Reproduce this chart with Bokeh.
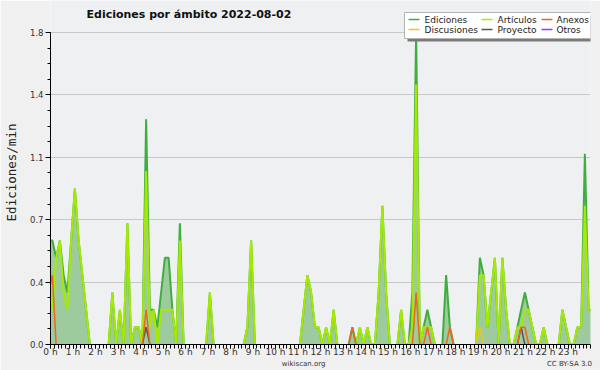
import math
from bokeh.plotting import figure
from bokeh.models import (Range1d, FixedTicker, CustomJSTickFormatter, BoxAnnotation,
                          Label, LinearAxis)
from bokeh.embed import file_html
from bokeh.resources import INLINE

# ---- data: edits per minute in 10-minute buckets (point at bucket middle) ----
# first value = last bucket of previous day, last value = first bucket of next day
slot_minutes = list(range(-5, 1446, 10))

ediciones = [0.6,
    0.6, 0.5, 0.6, 0.4, 0.3, 0.6,    # 0 h
    0.9, 0.6, 0.4, 0.2, 0.0, 0.0,    # 1 h
    0.0, 0.0, 0.0, 0.0, 0.3, 0.0,    # 2 h
    0.2, 0.0, 0.7, 0.0, 0.1, 0.1,    # 3 h
    0.0, 1.3, 0.2, 0.2, 0.1, 0.3,    # 4 h
    0.5, 0.5, 0.2, 0.0, 0.7, 0.0,    # 5 h
    0.0, 0.0, 0.0, 0.0, 0.0, 0.0,    # 6 h
    0.3, 0.0, 0.0, 0.0, 0.0, 0.0,    # 7 h
    0.0, 0.0, 0.0, 0.0, 0.1, 0.6,    # 8 h
    0.0, 0.0, 0.0, 0.0, 0.0, 0.0,    # 9 h
    0.0, 0.0, 0.0, 0.0, 0.0, 0.0,    # 10 h
    0.0, 0.2, 0.4, 0.3, 0.1, 0.1,    # 11 h
    0.0, 0.1, 0.0, 0.2, 0.0, 0.0,    # 12 h
    0.0, 0.0, 0.1, 0.0, 0.1, 0.0,    # 13 h
    0.1, 0.0, 0.0, 0.3, 0.8, 0.3,    # 14 h
    0.0, 0.0, 0.0, 0.2, 0.0, 0.0,    # 15 h
    0.3, 1.8, 0.0, 0.1, 0.2, 0.1,    # 16 h
    0.0, 0.0, 0.0, 0.4, 0.1, 0.0,    # 17 h
    0.0, 0.0, 0.0, 0.0, 0.0, 0.0,    # 18 h
    0.5, 0.4, 0.1, 0.3, 0.5, 0.0,    # 19 h
    0.5, 0.2, 0.0, 0.0, 0.1, 0.2,    # 20 h
    0.3, 0.2, 0.1, 0.0, 0.0, 0.1,    # 21 h
    0.0, 0.0, 0.0, 0.0, 0.2, 0.1,    # 22 h
    0.0, 0.0, 0.1, 0.1, 1.1, 0.2,    # 23 h
    0.2]

articulos = [0.3,
    0.2, 0.5, 0.6, 0.3, 0.2, 0.6,
    0.9, 0.6, 0.4, 0.2, 0.0, 0.0,
    0.0, 0.0, 0.0, 0.0, 0.3, 0.0,
    0.2, 0.0, 0.7, 0.0, 0.1, 0.1,
    0.0, 1.0, 0.1, 0.2, 0.0, 0.2,
    0.2, 0.2, 0.2, 0.0, 0.6, 0.0,
    0.0, 0.0, 0.0, 0.0, 0.0, 0.0,
    0.3, 0.0, 0.0, 0.0, 0.0, 0.0,
    0.0, 0.0, 0.0, 0.0, 0.1, 0.6,
    0.0, 0.0, 0.0, 0.0, 0.0, 0.0,
    0.0, 0.0, 0.0, 0.0, 0.0, 0.0,
    0.0, 0.2, 0.4, 0.3, 0.1, 0.1,
    0.0, 0.1, 0.0, 0.2, 0.0, 0.0,
    0.0, 0.0, 0.0, 0.0, 0.1, 0.0,
    0.1, 0.0, 0.0, 0.3, 0.8, 0.3,
    0.0, 0.0, 0.0, 0.2, 0.0, 0.0,
    0.1, 1.5, 0.0, 0.1, 0.1, 0.1,
    0.0, 0.0, 0.0, 0.0, 0.0, 0.0,
    0.0, 0.0, 0.0, 0.0, 0.0, 0.0,
    0.4, 0.4, 0.1, 0.3, 0.5, 0.0,
    0.5, 0.2, 0.0, 0.0, 0.1, 0.1,
    0.2, 0.2, 0.1, 0.0, 0.0, 0.1,
    0.0, 0.0, 0.0, 0.0, 0.2, 0.1,
    0.0, 0.0, 0.1, 0.1, 0.8, 0.2,
    0.2]

# sparse series: (slot index in slot_minutes, value); all other slots are 0
anexos_pts = [(0, 0.3), (1, 0.4), (26, 0.2), (81, 0.1), (98, 0.3), (101, 0.1),
              (107, 0.1), (126, 0.1), (127, 0.1)]
discusiones_pts = [(115, 0.1)]
proyecto_pts = [(26, 0.1), (126, 0.1)]
otros_pts = []

legend_rows = [["Ediciones", "Artículos", "Anexos"],
               ["Discusiones", "Proyecto", "Otros"]]
y_ticks = [0.0, 0.36, 0.72, 1.08, 1.44, 1.8]
y_max = 1.8
hour_ticks = list(range(0, 1381, 60))
credit_texts = ["wikiscan.org", "CC BY-SA 3.0"]
credit_minutes = [675, 1384]
title_text = "Ediciones por ámbito  2022-08-02"

n = len(slot_minutes)

def expand(pts):
    out = [0.0] * n
    for i, v in pts:
        out[i] = v
    return out

def masked(vals):
    # runs of zeros sit under the axis line in the original: hide them
    out = []
    for k, v in enumerate(vals):
        prev = vals[k - 1] if k > 0 else 0.0
        nxt = vals[k + 1] if k < n - 1 else 0.0
        out.append(float('nan') if (v == 0 and prev == 0 and nxt == 0) else v)
    return out

anexos = expand(anexos_pts)
discusiones = expand(discusiones_pts)
proyecto = expand(proyecto_pts)
otros = expand(otros_pts)

colors = {"Ediciones": "#3fae3f", "Artículos": "#a6ea00", "Anexos": "#f0641e",
          "Discusiones": "#f2c418", "Proyecto": "#555555", "Otros": "#9a3cf0"}

# layout (pixels): plot area 46..590 x 32..344 in a 600x370 canvas
W, H = 600, 370
FRAME_TOP, FRAME_BOTTOM = 32, 344
top_value = y_max * FRAME_BOTTOM / (FRAME_BOTTOM - FRAME_TOP)   # room for title + legend

p = figure(width=W, height=H, x_range=Range1d(0, 1440), y_range=Range1d(0, top_value),
           output_backend="svg", toolbar_location=None,
           min_border_left=46, min_border_right=10, min_border_top=0, min_border_bottom=26,
           background_fill_color="#eef0f1", border_fill_color="#f0f0f0")
p.outline_line_color = None

p.varea(x=slot_minutes, y1=[0.0] * n, y2=ediciones, fill_color="#9dcb9d", fill_alpha=1.0)
p.line(slot_minutes, masked(ediciones), line_color=colors["Ediciones"], line_width=2)
p.line(slot_minutes, masked(articulos), line_color=colors["Artículos"], line_width=2)
p.line(slot_minutes, masked(discusiones), line_color=colors["Discusiones"], line_width=1.5)
p.line(slot_minutes, masked(proyecto), line_color=colors["Proyecto"], line_width=1.5)
p.line(slot_minutes, masked(anexos), line_color=colors["Anexos"], line_width=1.5)
p.line(slot_minutes, masked(otros), line_color=colors["Otros"], line_width=1.5)

# axes
p.xaxis.ticker = FixedTicker(ticks=hour_ticks, minor_ticks=list(range(0, 1441, 10)))
p.xaxis.formatter = CustomJSTickFormatter(code="return (tick/60).toFixed(0) + ' h';")
p.yaxis.ticker = FixedTicker(ticks=y_ticks,
                             minor_ticks=[round(i * 0.09, 4) for i in range(21)])
p.yaxis.formatter = CustomJSTickFormatter(code="return tick.toFixed(1);")
p.yaxis.bounds = (0, y_max)
for ax in (p.xaxis[0], p.yaxis[0]):
    ax.axis_line_color = "black"
    ax.axis_line_width = 1
    ax.major_tick_line_color = "black"
    ax.minor_tick_line_color = "black"
    ax.major_tick_in = 0
    ax.minor_tick_in = 0
    ax.major_label_text_font = "DejaVu Sans"
    ax.major_label_text_color = "#333333"
p.xaxis.major_tick_out = 4
p.xaxis.minor_tick_out = 4
p.xaxis.major_label_standoff = -2
p.xaxis.axis_label_standoff = 0
p.xaxis.major_label_text_font_size = "9px"
p.yaxis.major_tick_out = 5
p.yaxis.minor_tick_out = 3
p.yaxis.major_label_standoff = 2
p.yaxis.major_label_text_font_size = "8.5px"
p.yaxis.axis_label = "Ediciones/min"
p.yaxis.axis_label_text_font = "DejaVu Sans Mono"
p.yaxis.axis_label_text_font_size = "12.5px"
p.yaxis.axis_label_text_font_style = "normal"
p.yaxis.axis_label_text_color = "#222222"
p.yaxis.axis_label_standoff = 8

# credits line under the hour labels
credits = LinearAxis(ticker=FixedTicker(ticks=credit_minutes),
                     formatter=CustomJSTickFormatter(
                         args=dict(labels=credit_texts, pos=credit_minutes),
                         code="return labels[pos.indexOf(tick)];"),
                     axis_line_color=None, major_tick_line_color=None,
                     minor_tick_line_color=None, major_tick_out=0, minor_tick_out=0,
                     major_tick_in=0, minor_tick_in=0,
                     major_label_standoff=0, axis_label_standoff=0,
                     major_label_text_font="DejaVu Sans",
                     major_label_text_font_size="7px",
                     major_label_text_color="#333333")
p.add_layout(credits, "below")

p.xgrid.grid_line_color = None
p.ygrid.ticker = FixedTicker(ticks=y_ticks)
p.ygrid.grid_line_color = "#c8c8c8"
p.ygrid.grid_line_width = 1

def cbox(l, r, t, b, fill, line=None):
    p.add_layout(BoxAnnotation(left=l, right=r, top=t, bottom=b,
                               left_units="canvas", right_units="canvas",
                               top_units="canvas", bottom_units="canvas",
                               fill_color=fill, fill_alpha=1.0,
                               line_color=line if line else "white",
                               line_alpha=1.0 if line else 0.0, line_width=1,
                               level="overlay"))

def clabel(x, y, text, size, **kw):
    p.add_layout(Label(x=x, y=y, x_units="canvas", y_units="canvas", text=text,
                       text_font="DejaVu Sans", text_font_size=size,
                       text_baseline="middle", level="overlay", **kw))

# title
clabel(86, 14, title_text, "11px", text_font_style="bold", text_color="#111111")

# legend: shadow, box, swatches and names
cbox(407, 594, 15, 41, "#7a7a7a")
cbox(404, 591, 12, 38, "#ffffff", "#b4b4b4")
col_swatch_x = [408, 481, 541]
col_text_x = [424, 497, 556]
row_y = [19, 29]
for r, row in enumerate(legend_rows):
    for c, name in enumerate(row):
        cbox(col_swatch_x[c], col_swatch_x[c] + 11, row_y[r] - 0.75, row_y[r] + 0.75,
             colors[name])
        clabel(col_text_x[c], row_y[r], name, "9px", text_color="#222222")

open("out.html", "w").write(file_html(p, INLINE))
